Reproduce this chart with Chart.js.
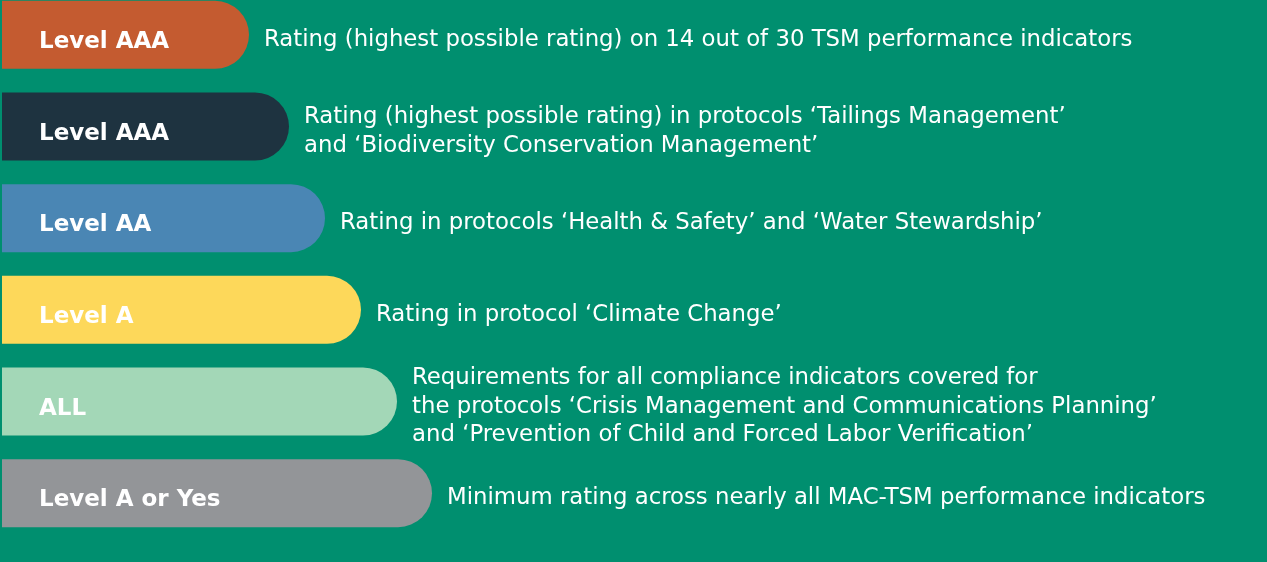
<!DOCTYPE html>
<html>
<head>
<meta charset="utf-8">
<script src="https://cdn.jsdelivr.net/npm/chart.js@4"></script>
<style>
  html, body { margin: 0; padding: 0; background: #008f6f; overflow: hidden; }
  #wrap { position: absolute; left: 0; top: -11px; width: 1267px; height: 573px; }
</style>
</head>
<body>
<div id="wrap"><canvas id="levels"></canvas></div>
<script>
// Level bars & descriptions
const levelLabels = ['Level AAA', 'Level AAA', 'Level AA', 'Level A', 'ALL', 'Level A or Yes'];
const barLengths = [247, 287, 323, 359, 395, 430];
const barColors = ['#c45b30', '#1e3340', '#4a86b4', '#fdd85a', '#a3d7b7', '#939598'];
const descriptions = [
  ['Rating (highest possible rating) on 14 out of 30 TSM performance indicators'],
  ['Rating (highest possible rating) in protocols \u2018Tailings Management\u2019', 'and \u2018Biodiversity Conservation Management\u2019'],
  ['Rating in protocols \u2018Health & Safety\u2019 and \u2018Water Stewardship\u2019'],
  ['Rating in protocol \u2018Climate Change\u2019'],
  ['Requirements for all compliance indicators covered for', 'the protocols \u2018Crisis Management and Communications Planning\u2019', 'and \u2018Prevention of Child and Forced Labor Verification\u2019'],
  ['Minimum rating across nearly all MAC-TSM performance indicators']
];

const fontFamily = '"DejaVu Sans", sans-serif';

// draws level names inside bars and descriptions next to them
const textPlugin = {
  id: 'barTexts',
  afterDatasetsDraw(chart) {
    const ctx = chart.ctx;
    const meta = chart.getDatasetMeta(0);
    const left = chart.chartArea.left;
    ctx.save();
    ctx.fillStyle = '#ffffff';
    ctx.textBaseline = 'alphabetic';
    ctx.textAlign = 'left';
    meta.data.forEach((bar, i) => {
      ctx.font = 'bold 23px ' + fontFamily;
      ctx.fillText(levelLabels[i], left + 37, bar.y + 13);

      ctx.font = '22.8px ' + fontFamily;
      const lines = descriptions[i];
      const lh = 28.7;
      const startY = bar.y - (lines.length - 1) * lh / 2;
      lines.forEach((line, j) => {
        ctx.fillText(line, bar.x + 15, startY + j * lh + 11);
      });
    });
    ctx.restore();
  }
};

new Chart(document.getElementById('levels'), {
  type: 'bar',
  data: {
    labels: levelLabels,
    datasets: [{
      data: barLengths,
      backgroundColor: barColors,
      borderWidth: 0,
      borderRadius: 40,
      borderSkipped: 'start',
      barPercentage: 0.742,
      categoryPercentage: 1
    }]
  },
  options: {
    indexAxis: 'y',
    responsive: true,
    maintainAspectRatio: false,
    animation: false,
    layout: { padding: { left: 2, right: 0, top: 0, bottom: 23 } },
    scales: {
      x: { type: 'linear', min: 0, max: 1265, display: false },
      y: { type: 'category', display: false }
    },
    plugins: {
      legend: { display: false },
      tooltip: { enabled: false }
    }
  },
  plugins: [textPlugin]
});
</script>
</body>
</html>
